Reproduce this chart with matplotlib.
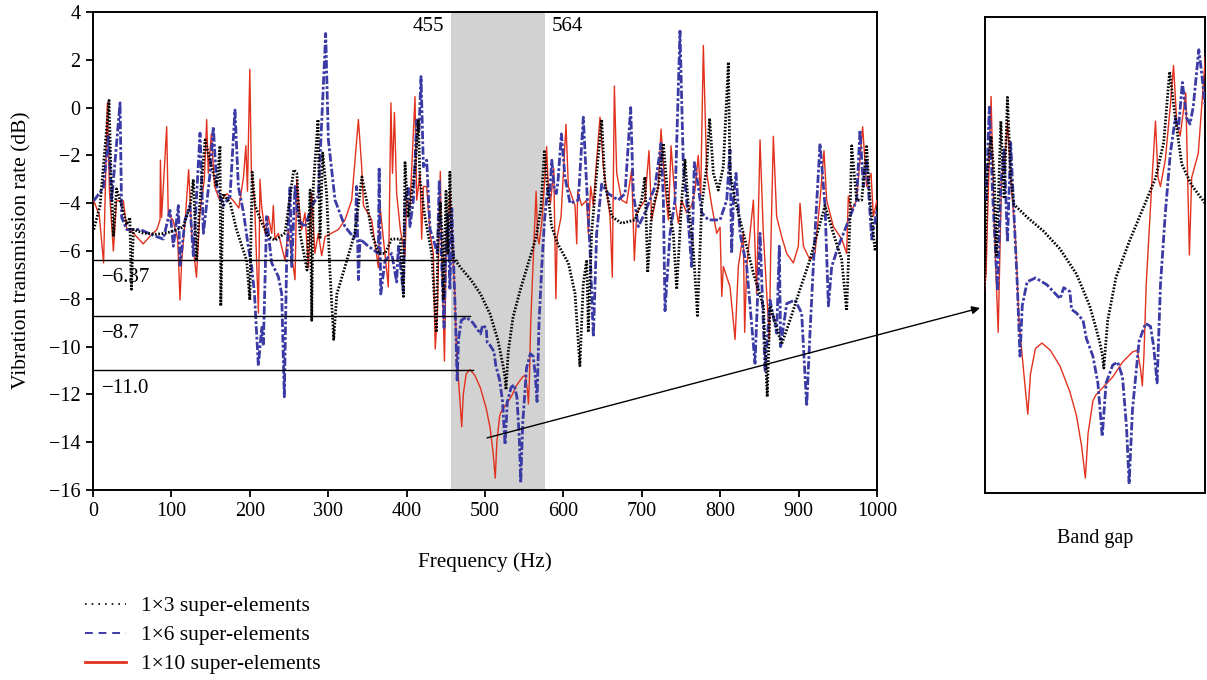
import matplotlib
matplotlib.use("Agg")
import matplotlib.pyplot as plt
from matplotlib.lines import Line2D

plt.rcParams['font.family'] = ['Liberation Serif', 'DejaVu Serif']
plt.rcParams['axes.unicode_minus'] = True

# ---- transmission curves (Hz, dB) ----
freq_1x3 = [1, 9, 20.4, 23, 26, 30, 36.6, 43, 47, 49,
            51.5, 64, 81, 94, 107, 115, 124, 128, 132, 136,
            143, 149, 158, 162, 163, 166, 175, 183, 196, 200,
            203, 206.7, 215, 224, 232, 245, 256, 260, 264, 273,
            277, 279, 281, 287, 289.5, 293, 298, 302, 307, 311,
            321.5, 334, 343, 349, 355.5, 364, 372.5, 381, 392, 396,
            398, 402, 410.7, 415, 417, 423.5, 432, 438, 440, 443,
            445.4, 447, 450.3, 452.7, 455.2, 457.6, 460, 469.8, 482, 494.3,
            506.5, 516.3, 520, 523.6, 525.5, 526.8, 528.2, 529.7, 535.8, 545.6,
            555.4, 565.2, 571.3, 575.7, 579.9, 584.7, 592, 601.9, 606.3, 614.8,
            621, 625.4, 629.7, 631.8, 636, 642.4, 648.8, 653, 661.6, 674.3,
            691.3, 699.8, 704, 707.5, 712.6, 721, 727.5, 734, 740.2, 744.5,
            750.9, 755.1, 759.4, 765.7, 771, 776.4, 782.8, 786.5, 791.3, 797.6,
            804, 810.4, 812.5, 819, 829.5, 842.3, 855, 860, 863.5, 872,
            878.4, 889, 901.8, 914.5, 925.2, 933.7, 944.3, 955, 961.3, 965.6,
            967.7, 974, 980.5, 986.8, 991, 997.5, 1000]
tr_1x3 = [-5.1, -4.1, 0.3, -2.8, -5.4, -3.4, -4.1, -4.9, -4.6, -7.6,
          -5.1, -5.25, -5.3, -5.25, -5.1, -5.0, -4.1, -3.0, -6.4, -4.1,
          -1.35, -2.2, -3.3, -1.6, -8.3, -3.6, -4.0, -5.1, -6.4, -8.05,
          -2.7, -4.1, -4.8, -5.4, -5.55, -5.25, -2.6, -2.75, -5.25, -6.8,
          -3.45, -8.9, -3.3, -0.5, -5.5, -1.9, -3.6, -6.7, -9.7, -7.8,
          -6.65, -5.25, -2.9, -3.9, -5.25, -6.1, -6.1, -5.5, -5.5, -7.9,
          -2.3, -4.6, -2.6, -0.5, -3.0, -4.6, -6.1, -9.4, -5.4, -4.0,
          -5.4, -8.0, -3.5, -6.1, -2.7, -5.4, -6.3, -6.73, -7.2, -7.8,
          -8.64, -9.71, -10.3, -10.9, -11.3, -11.8, -11.0, -10.2, -8.76, -7.56,
          -6.49, -5.42, -4.22, -1.84, -3.39, -4.94, -5.65, -6.25, -6.5, -7.77,
          -10.8, -7.35, -6.37, -9.4, -5.26, -2.75, -0.5, -3.2, -4.56, -4.84,
          -4.7, -3.87, -2.9, -6.9, -4.4, -3.3, -1.5, -4.1, -5.26, -7.6,
          -3.87, -2.2, -4.1, -5.96, -8.7, -4.1, -2.47, -0.45, -2.75, -3.45,
          -2.47, 1.9, -2.75, -3.87, -5.26, -6.93, -8.3, -12.1, -8.3, -9.2,
          -9.9, -8.9, -7.6, -6.37, -5.1, -4.1, -5.26, -6.37, -8.5, -4.56,
          -1.6, -3.87, -3.87, -1.63, -3.87, -6.0, -5.6]

freq_1x6 = [1, 13.2, 19.6, 23.8, 34.5, 36.6, 43, 60, 81, 89.7,
            98.2, 102.5, 108.9, 111, 117.4, 123.7, 128, 136.5, 140.8, 149.3,
            153.5, 157.8, 166.3, 174.8, 181.1, 185.4, 192, 198, 202.5, 206,
            210.9, 215.2, 217.3, 221.5, 223.7, 227.9, 236.4, 240.7, 244, 247,
            251.3, 253.4, 257.7, 262, 270.4, 274.7, 279, 287.4, 296.8, 300.2,
            308.7, 321.4, 334.2, 336.3, 338.5, 340.6, 351.2, 364, 365, 367,
            372.5, 381, 387.3, 389.5, 395.9, 398, 402.2, 404.3, 408.6, 412.9,
            415.8, 418.4, 421.4, 425.6, 429.9, 434.1, 439.3, 441.7, 444.2, 447.8,
            450.3, 452.7, 455.2, 457.6, 460, 462.5, 464.5, 466.2, 469.8, 476,
            484.5, 494.3, 497, 501.6, 502.8, 506.5, 511.4, 513.8, 518.7, 522.4,
            525.6, 528.5, 533.4, 537.1, 540.7, 543.7, 545.6, 548.1, 553, 557.8,
            561.5, 563.9, 566.4, 568.9, 572.5, 576.2, 579.9, 582.3, 585.2, 588.4,
            590.9, 593.3, 597.4, 599.4, 601.9, 608.4, 619, 625.4, 629.7, 634,
            638.2, 642.4, 648.8, 657.3, 670, 678.6, 685.8, 689.2, 695.6, 704,
            716.9, 724.5, 727.5, 729.6, 736, 742.4, 748.7, 753, 757.2, 763.6,
            767, 772.1, 776.4, 784.9, 799.8, 808.3, 812.5, 814.6, 816.8, 820.2,
            825.3, 833.8, 844.4, 850.8, 857.2, 863.5, 872, 875.4, 877.1, 884.8,
            895.4, 903.9, 910.3, 914.5, 920.9, 927.3, 933.7, 938, 942.2, 950.7,
            959.2, 965.6, 974, 978.3, 982.6, 986.8, 993.2, 1000]
tr_1x6 = [-3.9, -3.35, -1.2, -3.9, 0.2, -4.6, -5.1, -5.1, -5.4, -5.5,
          -4.3, -5.8, -4.1, -6.6, -4.7, -4.1, -6.2, -1.07, -5.26, -2.75,
          -0.8, -3.3, -4.1, -3.7, -0.1, -3.3, -4.4, -5.8, -6.7, -7.8,
          -10.8, -9.2, -9.9, -4.56, -5.26, -6.5, -7.07, -7.8, -12.1, -6.4,
          -3.3, -6.65, -3.3, -4.7, -5.0, -4.56, -4.1, -3.7, 3.1, -1.35,
          -3.87, -4.98, -5.5, -3.3, -7.2, -5.5, -5.8, -6.1, -2.5, -7.8,
          -6.4, -6.1, -7.3, -5.8, -7.77, -3.87, -3.3, -4.98, -3.87, -0.52,
          -0.94, 1.3, -2.47, -2.2, -5.1, -5.5, -6.13, -3.03, -6.0, -9.2,
          -5.65, -4.46, -7.56, -4.22, -6.6, -8.99, -11.4, -9.7, -8.9, -8.77,
          -9.0, -9.47, -9.1, -9.23, -9.83, -9.95, -10.2, -10.8, -11.4, -12.3,
          -14.1, -12.3, -11.7, -11.6, -12.1, -13.8, -15.7, -13.2, -10.9, -10.3,
          -10.4, -11.1, -12.3, -9.0, -6.6, -4.6, -3.4, -3.75, -2.2, -3.4,
          -3.6, -3.0, -1.1, -1.84, -2.9, -4.0, -3.87, -0.4, -3.3, -5.96,
          -9.6, -5.26, -3.2, -3.6, -3.87, -3.6, 0.0, -3.6, -4.98, -4.4,
          -3.3, -1.5, -3.87, -8.5, -5.26, -3.87, 3.2, -2.47, -3.87, -6.65,
          -2.3, -3.3, -4.4, -4.7, -4.7, -3.87, -1.77, -6.1, -3.87, -2.75,
          -5.26, -6.65, -10.7, -5.26, -11.0, -8.05, -9.44, -5.8, -10.0, -8.2,
          -8.05, -8.6, -12.5, -9.44, -5.26, -1.5, -4.1, -8.3, -6.65, -5.8,
          -5.1, -4.56, -3.87, -0.94, -3.3, -2.2, -5.5, -4.3]

freq_1x10 = [1, 8, 13.5, 18.3, 21, 26, 30, 38.7, 43, 50,
             64, 75, 81.5, 85.5, 86, 87.5, 94, 96, 102, 108,
             111, 113, 118, 122, 126, 132, 136, 142, 145, 147,
             151, 155, 162, 171, 179, 186, 192, 195, 197, 200,
             202, 206, 211, 213, 215, 219.4, 223.7, 228, 230, 232,
             236.4, 245, 249, 257.7, 260, 262, 266.2, 270.4, 274.7, 279,
             283, 287.4, 291.7, 296, 313, 321.4, 330, 338.5, 342.7, 345,
             355.5, 364, 366, 376.7, 380, 382, 384.5, 387.3, 392, 398,
             400, 404.4, 410.7, 412.9, 417.1, 419.2, 421.4, 425.6, 429.9, 434.1,
             436.5, 439.3, 440.5, 443, 445.4, 448.3, 450.8, 453.2, 455.2, 457.6,
             461.3, 463.7, 467.4, 470.3, 472.3, 476, 480.8, 487, 494.3, 501.6,
             506.5, 510.2, 513.1, 515.1, 518.7, 521, 526, 533.4, 540.7, 548.1,
             551.7, 554.2, 555.4, 556.6, 558.3, 562.7, 565.2, 567.1, 568.9, 572.5,
             576.2, 578.6, 581.1, 583.5, 587.7, 590.4, 592.1, 597, 603.3, 606.3,
             614.8, 617, 618.2, 623.3, 629.7, 631.8, 634.8, 638.2, 642.4, 646.7,
             651, 659.5, 662.4, 665, 668, 674.3, 680.7, 687.1, 690.5, 693.5,
             704, 709.2, 712.6, 721.1, 724.5, 729.6, 733.9, 737.3, 742.4, 746.6,
             750.9, 757.2, 763.6, 767.9, 772, 775.1, 778.5, 782.8, 789.2, 795.5,
             799.8, 802, 804, 812.5, 819, 823.1, 829.5, 831.2, 833.8, 842.3,
             846.5, 850.8, 855, 862.7, 864.4, 867.8, 872, 878.4, 884.8, 893.3,
             899.7, 901.8, 906.1, 914.5, 920.9, 927.3, 932.4, 935.8, 944.3, 955,
             961.3, 963.4, 967.7, 974, 981.7, 986.8, 992.4, 995.3, 1000]
tr_1x10 = [-3.9, -4.5, -6.5, 0.2, -3.5, -6.0, -3.9, -3.9, -5.1, -5.2,
           -5.7, -5.3, -5.1, -4.7, -2.2, -4.6, -0.8, -4.5, -4.7, -5.5,
           -8.05, -6.5, -4.5, -2.6, -5.3, -7.1, -4.5, -3.0, -0.5, -2.75,
           -1.1, -3.3, -3.9, -3.6, -3.9, -4.2, -2.9, -1.6, -3.5, 1.6,
           -2.7, -3.87, -8.6, -3.0, -4.1, -5.26, -4.56, -5.26, -4.1, -5.5,
           -5.26, -6.4, -5.1, -7.2, -3.0, -3.87, -5.1, -4.4, -6.7, -3.6,
           -6.1, -5.26, -6.2, -5.4, -5.1, -4.7, -3.87, -0.5, -2.47, -4.1,
           -4.7, -6.7, -4.1, -7.5, 0.2, -2.75, -0.2, -3.6, -5.1, -6.2,
           -3.87, -4.1, 0.46, -3.87, -2.75, -5.5, -3.3, -3.3, -5.26, -6.1,
           -10.1, -8.6, -6.6, -2.67, -7.1, -10.6, -5.4, -4.9, -3.5, -5.4,
           -7.56, -10.2, -12.0, -13.35, -12.0, -11.14, -10.96, -11.2, -11.74, -12.6,
           -13.4, -14.4, -15.5, -14.0, -12.9, -12.7, -12.46, -12.1, -11.6, -11.26,
           -11.2, -11.86, -12.4, -11.4, -9.0, -5.4, -3.5, -5.4, -5.7, -4.8,
           -3.0, -1.63, -3.6, -4.0, -2.55, -8.0, -5.4, -4.58, -0.7, -3.3,
           -4.1, -5.7, -3.5, -4.1, -3.87, -5.26, -3.3, -4.1, -2.2, -0.4,
           -2.47, -4.56, -7.1, 0.9, -2.75, -3.87, -4.0, -2.6, -6.4, -4.4,
           -3.87, -1.8, -4.7, -3.3, -0.9, -3.3, -4.7, -1.6, -3.87, -4.84,
           -3.87, -4.4, -4.1, -3.45, -2.0, -3.7, 2.6, -2.75, -4.1, -5.26,
           -5.0, -7.9, -6.65, -7.5, -9.7, -6.65, -5.26, -9.4, -6.65, -3.87,
           -7.77, -1.35, -5.26, -9.7, -6.1, -1.2, -4.56, -5.4, -6.1, -6.5,
           -5.8, -4.0, -5.8, -6.37, -6.1, -3.87, -1.8, -3.87, -4.98, -5.5,
           -6.1, -3.7, -4.3, -3.87, -0.8, -3.3, -2.75, -4.56, -3.87]

# band gap limits and reference levels
band_lo, band_hi = 456, 577
band_labels = ["455", "564"]
ref_levels = [-6.37, -8.7, -11.0]
ref_ends = [464, 481, 485]
ref_texts = ["\u22126.37", "\u22128.7", "\u221211.0"]
series_labels = ["1\u00d73 super-elements", "1\u00d76 super-elements", "1\u00d710 super-elements"]

RED = "#e2311d"
BLUE = "#3b3ba6"
GRAY = "#d3d2d2"

W, H = 1207, 680
fig = plt.figure(figsize=(W / 100, H / 100), dpi=100)

ax = fig.add_axes([93 / W, 1 - 490 / H, (877 - 93) / W, (490 - 12) / H])
ax_in = fig.add_axes([985 / W, 1 - 493 / H, (1205 - 985) / W, (493 - 17) / H])


def draw_curves(a):
    a.plot(freq_1x10, tr_1x10, color=RED, lw=1.0, zorder=3)
    a.plot(freq_1x6, tr_1x6, color=BLUE, lw=2.0,
           linestyle=(0, (3.0, 0.8, 1.0, 0.8)), zorder=4)
    a.plot(freq_1x3, tr_1x3, color="black", lw=2.0,
           linestyle=(0, (0.6, 0.6)), zorder=5)


ax.axvspan(band_lo, band_hi, color=GRAY, lw=0, zorder=1)
draw_curves(ax)
for lvl, end in zip(ref_levels, ref_ends):
    ax.plot([0, end], [lvl, lvl], color="black", lw=1.0, zorder=6)
for lvl, txt in zip(ref_levels, ref_texts):
    ax.text(12, lvl - 0.75, txt, fontsize=15, ha="left", va="center", zorder=7)

ax.text(band_lo - 8, 3.4, band_labels[0], fontsize=15, ha="right", va="center")
ax.text(band_hi + 8, 3.4, band_labels[1], fontsize=15, ha="left", va="center")

ax.set_xlim(0, 1000)
ax.set_ylim(-16, 4)
ax.set_xticks(range(0, 1001, 100))
ax.set_yticks(range(-16, 5, 2))
ax.tick_params(direction="out", length=5, width=1.3, labelsize=14.5, pad=4)
for sp in ax.spines.values():
    sp.set_linewidth(1.4)

fig.text(22 / W, 1 - 250 / H, "Vibration transmission rate (dB)", fontsize=15.5,
         rotation=90, ha="center", va="center")
fig.text(485 / W, 1 - 562 / H, "Frequency (Hz)", fontsize=15.3, ha="center", va="center")

# zoomed view of the band gap
draw_curves(ax_in)
ax_in.set_xlim(438.5, 602)
ax_in.set_ylim(-16, 0)
ax_in.set_xticks([])
ax_in.set_yticks([])
for sp in ax_in.spines.values():
    sp.set_linewidth(1.4)
fig.text(1095 / W, 1 - 538 / H, "Band gap", fontsize=14.5, ha="center", va="center")

ax.annotate("", xy=(980 / W, 1 - 308 / H), xycoords="figure fraction",
            xytext=(502.6, -13.82), textcoords="data",
            arrowprops=dict(arrowstyle="-|>", color="black", lw=1.0,
                            mutation_scale=12, shrinkA=0, shrinkB=0),
            annotation_clip=False, zorder=8)

handles = [
    Line2D([], [], color="black", lw=1.2, linestyle=(0, (1, 3))),
    Line2D([], [], color=BLUE, lw=1.4, linestyle=(0, (4, 3))),
    Line2D([], [], color=RED, lw=2.0),
]
fig.legend(handles, series_labels, loc="upper left",
           bbox_to_anchor=(85 / W, 1 - 596 / H), frameon=False, fontsize=15.5,
           handlelength=1.9, handletextpad=0.7, labelspacing=0.42,
           borderaxespad=0, borderpad=0)

fig.savefig("out.png", dpi=100)
